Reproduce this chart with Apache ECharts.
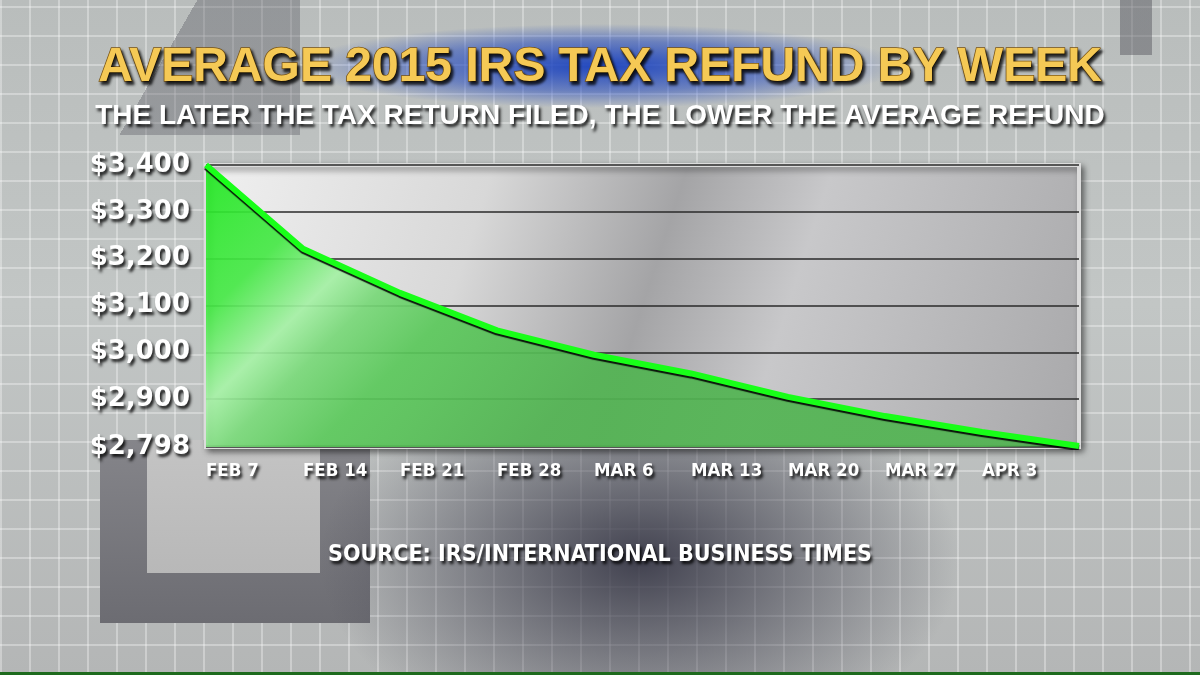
<!DOCTYPE html>
<html>
<head>
<meta charset="utf-8">
<script src="https://cdn.jsdelivr.net/npm/echarts@6/dist/echarts.min.js"></script>
<style>
  html, body { margin: 0; padding: 0; }
  /* studio background: grey grid, dark blocks, blue glow behind title */
  #main {
    width: 1200px; height: 675px;
    background:
      linear-gradient(#1d6a1d, #1d6a1d) 0 672px / 1200px 3px no-repeat,
      radial-gradient(ellipse 300px 42px at 600px 66px, rgba(25,65,190,0.95), rgba(25,65,190,0.5) 60%, rgba(25,65,190,0) 100%),
      radial-gradient(ellipse 320px 200px at 640px 560px, rgba(55,55,70,0.92), rgba(55,55,70,0) 100%),
      linear-gradient(#c4c4c4, #b8b8b8) 147px 440px / 173px 133px no-repeat,
      linear-gradient(#85858a, #6c6c72) 100px 440px / 270px 183px no-repeat,
      linear-gradient(120deg, rgba(80,80,90,0) 30%, rgba(80,80,90,0.35) 30%, rgba(80,80,90,0.35) 100%) 120px 0 / 180px 135px no-repeat,
      linear-gradient(rgba(80,80,88,0.45), rgba(80,80,88,0.45)) 1120px 0 / 32px 55px no-repeat,
      repeating-linear-gradient(90deg, rgba(255,255,255,0.32) 0 2px, transparent 2px 29px),
      repeating-linear-gradient(0deg, rgba(255,255,255,0.32) 0 2px, transparent 2px 29px),
      linear-gradient(180deg, #b9bdbc 0%, #c2c6c5 45%, #b4b6b6 100%);
  }
</style>
</head>
<body>
<div id="main"></div>
<script>
// weeks and average refund in dollars (last point has no label)
var weeks = ['FEB 7', 'FEB 14', 'FEB 21', 'FEB 28', 'MAR 6', 'MAR 13', 'MAR 20', 'MAR 27', 'APR 3', ''];
var refunds = [3400, 3221, 3127, 3047, 2995, 2955, 2905, 2864, 2830, 2800];
var yMin = 2798;
var yMax = 3400;

var chart = echarts.init(document.getElementById('main'));

var shadowText = {
  textShadowColor: 'rgba(0,0,0,0.85)',
  textShadowBlur: 3,
  textShadowOffsetX: 2,
  textShadowOffsetY: 3
};
var condensed = "'DejaVu Sans Condensed', 'Liberation Sans', sans-serif";

chart.setOption({
  backgroundColor: 'transparent',
  animation: false,
  title: [
    {
      text: 'AVERAGE 2015 IRS TAX REFUND BY WEEK',
      left: 'center',
      top: 39,
      textStyle: Object.assign({
        fontFamily: 'Liberation Sans',
        fontWeight: 'bold',
        fontSize: 48,
        color: '#f5c955',
        textBorderColor: '#7a5412',
        textBorderWidth: 1.5
      }, shadowText)
    },
    {
      text: 'THE LATER THE TAX RETURN FILED, THE LOWER THE AVERAGE REFUND',
      left: 'center',
      top: 97,
      textStyle: Object.assign({
        fontFamily: 'Liberation Sans',
        fontWeight: 'bold',
        fontSize: 28,
        color: '#ffffff'
      }, shadowText)
    },
    {
      text: 'SOURCE: IRS/INTERNATIONAL BUSINESS TIMES',
      left: 'center',
      top: 539,
      textStyle: Object.assign({
        fontFamily: condensed,
        fontWeight: 'bold',
        fontSize: 23,
        color: '#ffffff'
      }, shadowText)
    }
  ],
  grid: {
    left: 206,
    right: 121,
    top: 165,
    bottom: 228,
    show: true,
    borderColor: '#dcdcdc',
    borderWidth: 4,
    backgroundColor: new echarts.graphic.LinearGradient(0, 0, 1, 1, [
      { offset: 0, color: '#f0f0f0' },
      { offset: 0.3, color: '#d8d8d8' },
      { offset: 0.5, color: '#a4a4a6' },
      { offset: 0.65, color: '#c8c8ca' },
      { offset: 1, color: '#a8a8aa' }
    ]),
    shadowColor: 'rgba(0,0,0,0.45)',
    shadowBlur: 6,
    shadowOffsetX: 3,
    shadowOffsetY: 3
  },
  xAxis: {
    type: 'category',
    data: weeks,
    boundaryGap: false,
    axisLine: { show: false },
    axisTick: { show: false },
    axisLabel: Object.assign({
      align: 'left',
      margin: 15,
      interval: 0,
      fontFamily: condensed,
      fontWeight: 'bold',
      fontSize: 18.5,
      color: '#ffffff'
    }, shadowText)
  },
  yAxis: {
    type: 'value',
    min: yMin,
    max: yMax,
    splitNumber: 6,
    axisLine: { show: false },
    axisTick: { show: false },
    splitLine: { lineStyle: { color: '#2a2a2a', width: 1.5 } },
    axisLabel: Object.assign({
      margin: 16,
      fontFamily: 'DejaVu Sans',
      fontWeight: 'bold',
      fontSize: 26,
      color: '#ffffff',
      formatter: function (v) {
        if (v !== yMin && v !== yMax && v % 100 !== 0) return '';
        if (v === 2800) return '';
        return '$' + v.toLocaleString('en-US');
      }
    }, shadowText)
  },
  series: [
    {
      type: 'line',
      data: refunds,
      symbol: 'none',
      lineStyle: {
        color: '#18ff18',
        width: 6,
        shadowColor: 'rgba(0,0,0,0.9)',
        shadowBlur: 1,
        shadowOffsetY: 2
      },
      areaStyle: {
        opacity: 0.92,
        color: new echarts.graphic.LinearGradient(206, 165, 506, 465, [
          { offset: 0, color: '#20e820' },
          { offset: 0.25, color: '#46e846' },
          { offset: 0.4, color: '#a4f0a4' },
          { offset: 0.5, color: '#78d878' },
          { offset: 0.65, color: '#5ac85a' },
          { offset: 1, color: '#52b452' }
        ], true)
      }
    }
  ]
});

window.addEventListener('resize', function () {
  chart.resize();
});
</script>
</body>
</html>
